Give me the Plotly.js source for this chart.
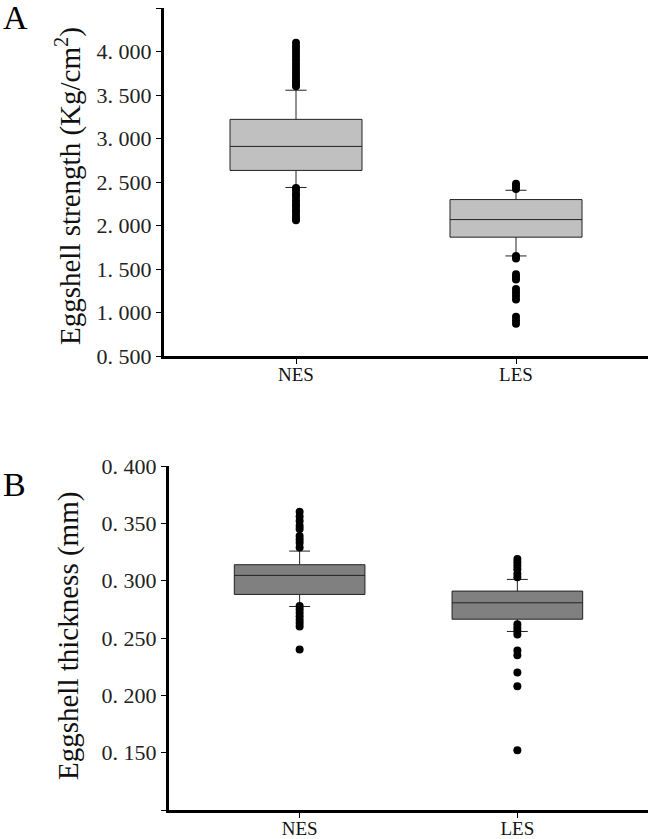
<!DOCTYPE html>
<html>
<head>
<meta charset="utf-8">
<script src="https://cdn.plot.ly/plotly-3.0.1.min.js"></script>
<style>html,body{margin:0;padding:0;background:#fff;}</style>
</head>
<body>
<div id="chart" style="width:651px;height:839px;"></div>
<script>
// ---- Data ----
const groups = ['NES', 'LES'];

// Panel A: eggshell strength (Kg/cm2)
const strengthQ1 = [2.633, 1.866];
const strengthMedian = [2.909, 2.068];
const strengthQ3 = [3.220, 2.298];
const strengthLowerFence = [2.437, 1.650];
const strengthUpperFence = [3.555, 2.405];
const strengthOutliersNES = [4.10, 4.06, 4.02, 3.98, 3.94, 3.90, 3.86, 3.82, 3.78, 3.74, 3.70, 3.66, 3.63, 3.60,
                             2.43, 2.40, 2.36, 2.33, 2.29, 2.25, 2.22, 2.18, 2.15, 2.11, 2.08, 2.06];
const strengthOutliersLES = [2.48, 2.45, 2.42,
                             1.65, 1.62, 1.44, 1.41, 1.38, 1.27, 1.23, 1.19, 1.15, 0.95, 0.91, 0.87];

// Panel B: eggshell thickness (mm)
const thickQ1 = [0.2880, 0.2664];
const thickMedian = [0.3046, 0.2807];
const thickQ3 = [0.3139, 0.2909];
const thickLowerFence = [0.2775, 0.2557];
const thickUpperFence = [0.3258, 0.3011];
const thickOutliersNES = [0.360, 0.356, 0.352, 0.348, 0.345, 0.339, 0.336, 0.333, 0.329,
                          0.278, 0.275, 0.272, 0.269, 0.266, 0.263, 0.260, 0.240];
const thickOutliersLES = [0.319, 0.316, 0.313, 0.310, 0.306, 0.303,
                          0.262, 0.259, 0.256, 0.253, 0.239, 0.235, 0.220, 0.208, 0.152];

const strengthTicks = [0.5, 1.0, 1.5, 2.0, 2.5, 3.0, 3.5, 4.0, 4.5];
const thickTicks = [0.15, 0.20, 0.25, 0.30, 0.35, 0.40];
const thickUnlabeledTicks = [0.10];
const strengthTickText = strengthTicks.map(v => v.toFixed(3).replace('.', '. '));
const thickTickText = thickTicks.map(v => v.toFixed(3).replace('.', '. '));

// ---- Traces ----
const serif = 'Liberation Serif, DejaVu Serif, serif';
function boxTrace(q1, med, q3, lf, uf, fill, xa, ya) {
  return {
    type: 'box', x: groups, q1: q1, median: med, q3: q3,
    lowerfence: lf, upperfence: uf, boxpoints: false,
    width: 0.6, whiskerwidth: 0.16, fillcolor: fill,
    line: {color: '#222', width: 1},
    xaxis: xa, yaxis: ya, hoverinfo: 'skip'
  };
}
function outlierTrace(vals, g, xa, ya) {
  return {
    type: 'scatter', mode: 'markers', x: vals.map(() => g), y: vals,
    marker: {color: '#000', size: 8}, xaxis: xa, yaxis: ya, hoverinfo: 'skip'
  };
}

const data = [
  boxTrace(strengthQ1, strengthMedian, strengthQ3, strengthLowerFence, strengthUpperFence, '#c0c0c0', 'x', 'y'),
  outlierTrace(strengthOutliersNES, groups[0], 'x', 'y'),
  outlierTrace(strengthOutliersLES, groups[1], 'x', 'y'),
  boxTrace(thickQ1, thickMedian, thickQ3, thickLowerFence, thickUpperFence, '#808080', 'x2', 'y2'),
  outlierTrace(thickOutliersNES, groups[0], 'x2', 'y2'),
  outlierTrace(thickOutliersLES, groups[1], 'x2', 'y2')
];

const W = 651, H = 839;
function xAxis(left) {
  return {
    domain: [left / W, 648 / W], range: [-0.6, 1.6], type: 'category',
    showline: true, linewidth: 3, linecolor: '#000', mirror: false,
    ticks: 'outside', ticklen: 5, tickwidth: 1, tickcolor: '#000',
    ticklabelstandoff: -6,
    showgrid: false, zeroline: false, fixedrange: true,
    tickfont: {family: serif, size: 19, color: '#111'}
  };
}
function yAxis(top, bottom, range, tv, tt, anchor) {
  return {
    domain: [1 - bottom / H, 1 - top / H], range: range, anchor: anchor,
    tickmode: 'array', tickvals: tv, ticktext: tt,
    showline: true, linewidth: 3, linecolor: '#000',
    ticks: 'outside', ticklen: 5, tickwidth: 1, tickcolor: '#000',
    showgrid: false, zeroline: false, fixedrange: true,
    tickfont: {family: serif, size: 22, color: '#222'}
  };
}

const yaxis2 = yAxis(466, 810, [0.1, 0.4], thickTicks, thickTickText, 'x2');
yaxis2.minor = {tickmode: 'array', tickvals: thickUnlabeledTicks, ticks: 'outside',
                ticklen: 5, tickwidth: 1, tickcolor: '#000', showgrid: false};

const layout = {
  width: W, height: H,
  margin: {l: 0, r: 0, t: 0, b: 0},
  paper_bgcolor: '#fff', plot_bgcolor: '#fff',
  showlegend: false,
  xaxis: Object.assign(xAxis(164), {anchor: 'y'}),
  yaxis: yAxis(8, 356, [0.5, 4.5], strengthTicks, strengthTickText, 'x'),
  xaxis2: Object.assign(xAxis(169), {anchor: 'y2'}),
  yaxis2: yaxis2,
  annotations: [
    {text: 'Eggshell strength (Kg/cm<sup>2</sup>)', xref: 'paper', yref: 'paper',
     x: 68 / W, y: 1 - 186 / H, xanchor: 'center', yanchor: 'middle', textangle: -90,
     showarrow: false, font: {family: serif, size: 29, color: '#111'}},
    {text: 'Eggshell thickness (mm)', xref: 'paper', yref: 'paper',
     x: 68 / W, y: 1 - 636 / H, xanchor: 'center', yanchor: 'middle', textangle: -90,
     showarrow: false, font: {family: serif, size: 29, color: '#111'}},
    {text: 'A', xref: 'paper', yref: 'paper', x: 15 / W, y: 1 - 18 / H,
     xanchor: 'center', yanchor: 'middle', showarrow: false,
     font: {family: serif, size: 34, color: '#000'}},
    {text: 'B', xref: 'paper', yref: 'paper', x: 14 / W, y: 1 - 484 / H,
     xanchor: 'center', yanchor: 'middle', showarrow: false,
     font: {family: serif, size: 34, color: '#000'}}
  ]
};

Plotly.newPlot('chart', data, layout, {displayModeBar: false, staticPlot: true});
</script>
</body>
</html>
